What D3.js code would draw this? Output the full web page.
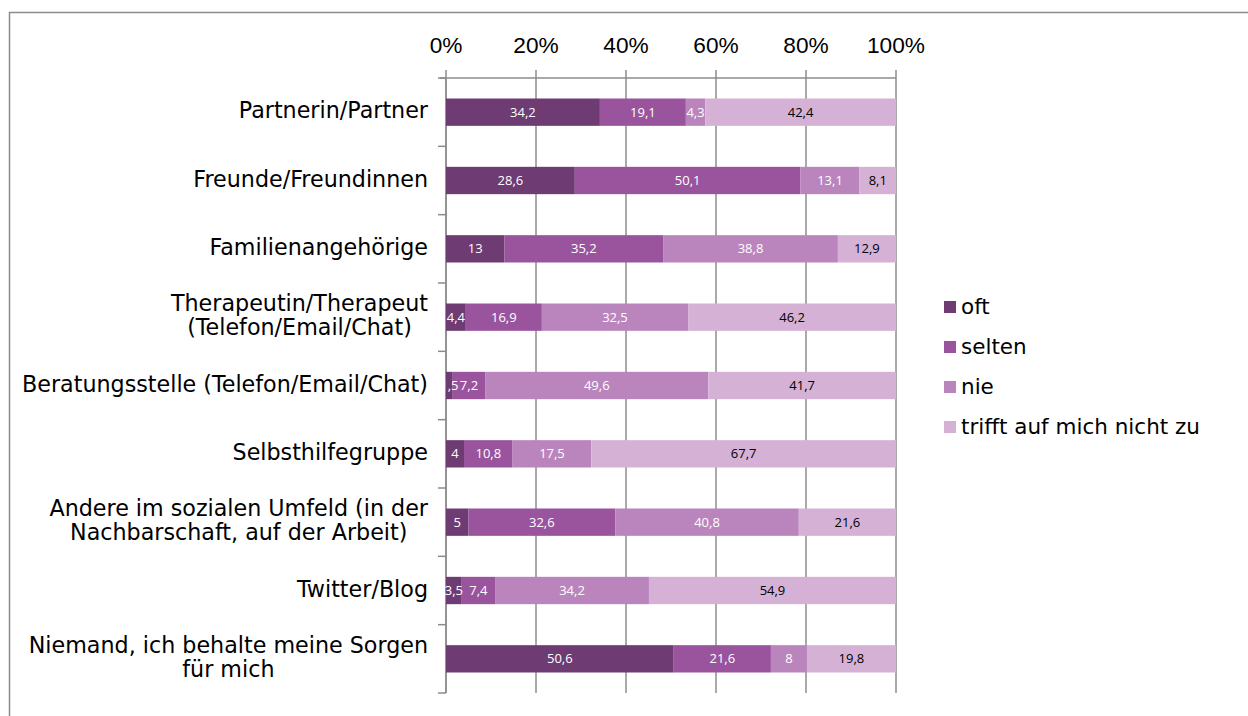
<!DOCTYPE html>
<html>
<head>
<meta charset="utf-8">
<script src="https://cdn.jsdelivr.net/npm/d3@7/dist/d3.min.js"></script>
<style>
  html, body { margin: 0; padding: 0; background: #fff; }
  svg { display: block; }
</style>
</head>
<body>
<svg id="chart" width="1248" height="716"></svg>
<script>
(function () {
  'use strict';

  // ---- Data ----
  const categories = [
    ['Partnerin/Partner'],
    ['Freunde/Freundinnen'],
    ['Familienangehörige'],
    ['Therapeutin/Therapeut', '(Telefon/Email/Chat)'],
    ['Beratungsstelle (Telefon/Email/Chat)'],
    ['Selbsthilfegruppe'],
    ['Andere im sozialen Umfeld (in der', 'Nachbarschaft, auf der Arbeit)'],
    ['Twitter/Blog'],
    ['Niemand, ich behalte meine Sorgen', 'für mich']
  ];
  const seriesNames = ['oft', 'selten', 'nie', 'trifft auf mich nicht zu'];
  const oft = [34.2, 28.6, 13, 4.4, 1.5, 4, 5, 3.5, 50.6];
  const selten = [19.1, 50.1, 35.2, 16.9, 7.2, 10.8, 32.6, 7.4, 21.6];
  const nie = [4.3, 13.1, 38.8, 32.5, 49.6, 17.5, 40.8, 34.2, 8];
  const trifftNicht = [42.4, 8.1, 12.9, 46.2, 41.7, 67.7, 21.6, 54.9, 19.8];
  const tickValues = [0, 0.2, 0.4, 0.6, 0.8, 1];

  const colors = ['#6e3b73', '#9a549e', '#ba85bd', '#d5b1d6'];
  const labelColors = ['#fff', '#fff', '#fff', '#000'];

  const LABEL_FONT = "'DejaVu Sans', Verdana, sans-serif";
  const NUM_FONT = "'Liberation Sans', Arial, sans-serif";
  const DATA_FONT = "'Open Sans', 'Liberation Sans', sans-serif";

  const svg = d3.select('#chart');

  // font size that makes a text fit a given width
  function fitSize(text, family, width) {
    const t = svg.append('text')
      .attr('font-family', family)
      .attr('font-size', 20)
      .text(text);
    const w = t.node().getComputedTextLength();
    t.remove();
    return 20 * width / w;
  }
  const catSize = fitSize('Beratungsstelle (Telefon/Email/Chat)', LABEL_FONT, 406);
  const legendSize = fitSize('trifft auf mich nicht zu', LABEL_FONT, 239);
  const tickSize = Math.min(24, fitSize('100%', NUM_FONT, 58));

  // outer frame
  svg.append('rect')
    .attr('x', 9.5).attr('y', 12.5)
    .attr('width', 1260).attr('height', 720)
    .attr('fill', 'none')
    .attr('stroke', '#8c8c8c')
    .attr('stroke-width', 1.5);

  const left = 446, right = 896, top = 78, bottom = 693;

  const x = d3.scaleLinear().domain([0, 1]).range([left, right]);
  const y = d3.scaleBand()
    .domain(d3.range(categories.length))
    .range([top, bottom])
    .paddingInner(0.6)
    .paddingOuter(0.3);

  // rows normalised to 100%
  const rows = categories.map(function (c, i) {
    const vals = [oft[i], selten[i], nie[i], trifftNicht[i]];
    const total = d3.sum(vals);
    const row = { index: i };
    vals.forEach(function (v, k) { row['s' + k] = v / total; row['v' + k] = v; });
    return row;
  });
  const stacked = d3.stack().keys(['s0', 's1', 's2', 's3'])(rows);

  // gridlines (extending above top as ticks)
  svg.append('g')
    .selectAll('line')
    .data(tickValues)
    .enter()
    .append('line')
    .attr('x1', function (d) { return x(d); })
    .attr('x2', function (d) { return x(d); })
    .attr('y1', top - 8)
    .attr('y2', bottom)
    .attr('stroke', '#8c8c8c')
    .attr('stroke-width', 1.5);

  // top axis line
  svg.append('line')
    .attr('x1', left - 6).attr('x2', right)
    .attr('y1', top).attr('y2', top)
    .attr('stroke', '#8c8c8c').attr('stroke-width', 1.5);

  // tick labels
  svg.append('g')
    .selectAll('text')
    .data(tickValues)
    .enter()
    .append('text')
    .attr('x', function (d) { return x(d); })
    .attr('y', 53)
    .attr('text-anchor', 'middle')
    .attr('font-family', NUM_FONT)
    .attr('font-size', tickSize)
    .attr('fill', '#000')
    .text(function (d) { return Math.round(d * 100) + '%'; });

  // category axis with boundary ticks
  const step = (bottom - top) / categories.length;
  svg.append('line')
    .attr('x1', left).attr('x2', left)
    .attr('y1', top).attr('y2', bottom)
    .attr('stroke', '#8c8c8c').attr('stroke-width', 1.5);
  svg.append('g')
    .selectAll('line')
    .data(d3.range(categories.length + 1))
    .enter()
    .append('line')
    .attr('x1', left - 8).attr('x2', left)
    .attr('y1', function (d) { return top + d * step; })
    .attr('y2', function (d) { return top + d * step; })
    .attr('stroke', '#8c8c8c').attr('stroke-width', 1.5);

  // bars
  const layer = svg.append('g')
    .selectAll('g')
    .data(stacked)
    .enter()
    .append('g')
    .attr('fill', function (d, i) { return colors[i]; });

  layer.selectAll('rect')
    .data(function (d) { return d; })
    .enter()
    .append('rect')
    .attr('x', function (d) { return x(d[0]); })
    .attr('y', function (d) { return y(d.data.index); })
    .attr('width', function (d) { return x(d[1]) - x(d[0]); })
    .attr('height', y.bandwidth());

  // data labels
  stacked.forEach(function (s, k) {
    svg.append('g')
      .selectAll('text')
      .data(s)
      .enter()
      .append('text')
      .attr('x', function (d) { return (x(d[0]) + x(d[1])) / 2; })
      .attr('y', function (d) { return y(d.data.index) + y.bandwidth() / 2 + 4.5; })
      .attr('text-anchor', 'middle')
      .attr('font-family', DATA_FONT)
      .attr('font-size', 13)
      .attr('fill', labelColors[k])
      .text(function (d) { return String(d.data['v' + k]).replace('.', ','); });
  });

  // category labels
  categories.forEach(function (lines, i) {
    const cy = y(i) + y.bandwidth() / 2;
    const g = svg.append('g');
    const lh = 24;
    const texts = lines.map(function (t, j) {
      return g.append('text')
        .attr('y', cy + (j - (lines.length - 1) / 2) * lh + 6)
        .attr('font-family', LABEL_FONT)
        .attr('font-size', catSize)
        .attr('fill', '#000')
        .attr('text-anchor', 'middle')
        .text(t);
    });
    const maxW = d3.max(texts, function (t) { return t.node().getComputedTextLength(); });
    texts.forEach(function (t) { t.attr('x', 428 - maxW / 2); });
  });

  // legend
  const legend = svg.append('g')
    .selectAll('g')
    .data(seriesNames)
    .enter()
    .append('g')
    .attr('transform', function (d, i) { return 'translate(944,' + (307 + i * 40) + ')'; });
  legend.append('rect')
    .attr('x', 0).attr('y', -6)
    .attr('width', 12).attr('height', 12)
    .attr('fill', function (d, i) { return colors[i]; });
  legend.append('text')
    .attr('x', 17).attr('y', 7)
    .attr('font-family', LABEL_FONT)
    .attr('font-size', legendSize)
    .attr('fill', '#000')
    .text(function (d) { return d; });
})();
</script>
</body>
</html>
